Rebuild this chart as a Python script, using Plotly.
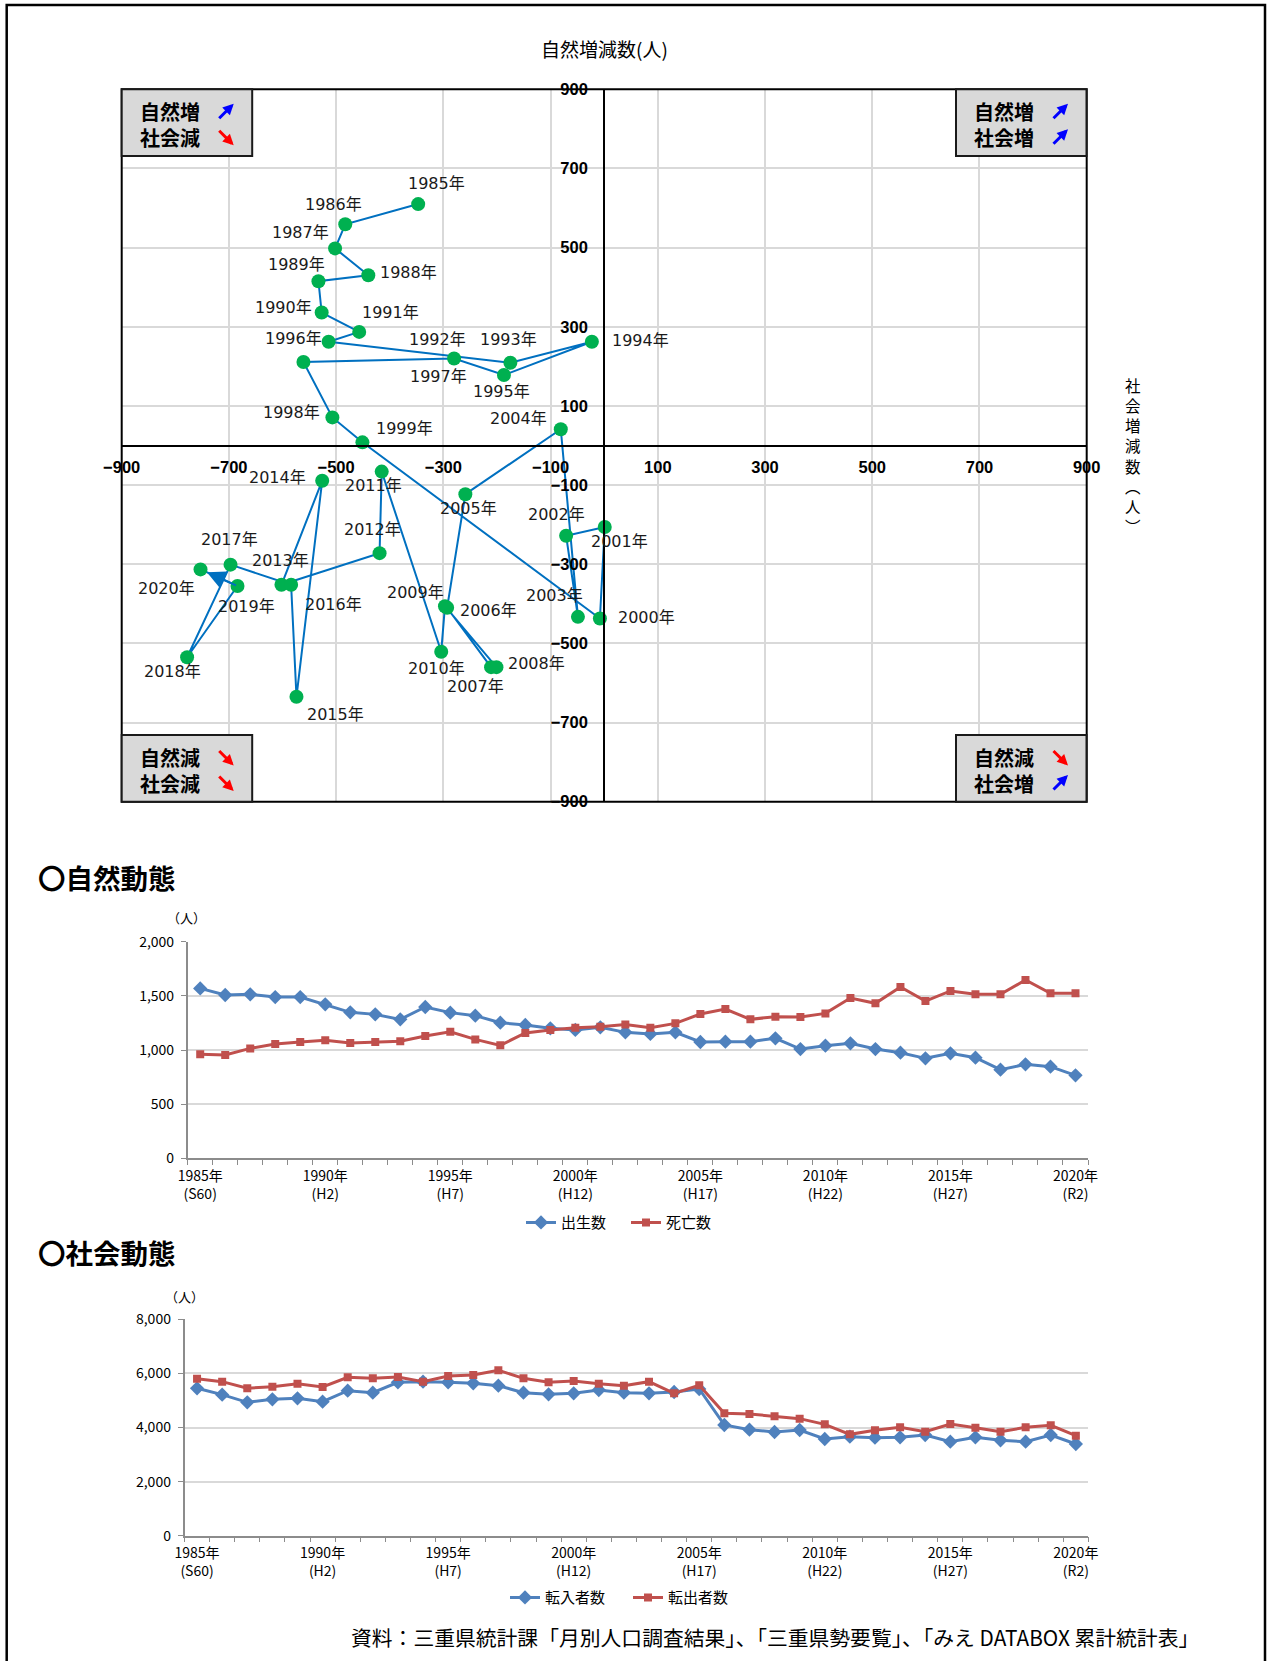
import plotly.graph_objects as go

W, H = 1271, 1661
JP = "Noto Sans CJK JP"

# ---------------------------------------------------------------- data
years = list(range(1985, 2021))

# scatter: x = 社会増減数, y = 自然増減数
social_change = [-347, -483, -502, -440, -533, -527, -457, -514, -175, -23,
                 -187, -280, -561, -507, -451, -8, 1, -71, -49, -81,
                 -259, -293, -211, -201, -297, -304, -415, -419, -602, -526,
                 -574, -584, -697, -778, -684, -753]
natural_change = [610, 559, 498, 430, 415, 336, 287, 262, 209, 262,
                  178, 220, 211, 71, 8, -437, -206, -228, -433, 41,
                  -123, -410, -560, -560, -406, -521, -66, -272, -352, -89,
                  -635, -352, -301, -535, -355, -313]

births = [1569, 1508, 1514, 1489, 1489, 1422, 1348, 1329, 1283, 1397,
          1345, 1317, 1252, 1231, 1200, 1185, 1209, 1163, 1148, 1163,
          1074, 1077, 1077, 1108, 1009, 1040, 1062, 1009, 975, 923,
          969, 929, 818, 868, 846, 766]
deaths = [960, 954, 1015, 1055, 1074, 1089, 1065, 1074, 1080, 1129,
          1169, 1098, 1043, 1157, 1185, 1206, 1215, 1236, 1206, 1246,
          1332, 1378, 1283, 1308, 1305, 1338, 1480, 1431, 1582, 1452,
          1545, 1514, 1514, 1646, 1523, 1523]

moved_in = [5449, 5214, 4931, 5042, 5079, 4956, 5362, 5288, 5670, 5695,
            5670, 5633, 5547, 5288, 5227, 5264, 5387, 5288, 5264, 5313,
            5424, 4093, 3920, 3834, 3908, 3575, 3661, 3624, 3636, 3723,
            3476, 3636, 3526, 3476, 3723, 3390]
moved_out = [5806, 5695, 5449, 5510, 5621, 5498, 5855, 5818, 5868, 5695,
             5905, 5942, 6114, 5818, 5670, 5720, 5621, 5547, 5695, 5264,
             5559, 4524, 4499, 4413, 4327, 4117, 3747, 3895, 4006, 3846,
             4130, 3994, 3846, 4006, 4080, 3698]

scatter_ticks = [-900, -700, -500, -300, -100, 100, 300, 500, 700, 900]
era_years = [1985, 1990, 1995, 2000, 2005, 2010, 2015, 2020]
era_names = ["S60", "H2", "H7", "H12", "H17", "H22", "H27", "R2"]
era_ticktext = [f"{y}年<br>({e})" for y, e in zip(era_years, era_names)]

# pixel offsets (dx right, dy down) of each year label from its point
label_offsets = [(18, -21), (-12, -20), (-35, -16), (40, -3), (-22, -17),
                 (-38, -5), (31, -19), (109, -2), (-2, -23), (49, -1),
                 (-2, 16), (-161, -20), (135, 15), (-41, -5), (42, -14),
                 (47, -1), (15, 14), (-10, -21), (-23, -21), (-42, -11),
                 (3, 14), (41, 3), (-16, 19), (40, -4), (-29, -14),
                 (-5, 17), (-8, 14), (-7, -24), (-1, -24), (-45, -3),
                 (39, 18), (42, 20), (-1, -25), (-15, 14), (9, 20),
                 (-34, 19)]


def px(xp):
    return xp / W


def py(yp):
    return 1 - yp / H


BLUE = "#4F81BD"
RED = "#C0504D"

fig = go.Figure()

# ---------------------------------------------------------------- scatter
fig.add_trace(go.Scatter(
    x=social_change, y=natural_change, mode="lines+markers",
    line=dict(color="#0070C0", width=2),
    marker=dict(color="#00B050", size=14),
    xaxis="x", yaxis="y", showlegend=False, hoverinfo="skip"))

# ---------------------------------------------------------------- natural
fig.add_trace(go.Scatter(
    x=years, y=births, name="出生数", mode="lines+markers",
    line=dict(color=BLUE, width=3),
    marker=dict(symbol="diamond", size=11, color=BLUE),
    xaxis="x2", yaxis="y2", legend="legend"))
fig.add_trace(go.Scatter(
    x=years, y=deaths, name="死亡数", mode="lines+markers",
    line=dict(color=RED, width=3),
    marker=dict(symbol="square", size=8, color=RED),
    xaxis="x2", yaxis="y2", legend="legend"))

# ---------------------------------------------------------------- social
fig.add_trace(go.Scatter(
    x=years, y=moved_in, name="転入者数", mode="lines+markers",
    line=dict(color=BLUE, width=3),
    marker=dict(symbol="diamond", size=11, color=BLUE),
    xaxis="x3", yaxis="y3", legend="legend2"))
fig.add_trace(go.Scatter(
    x=years, y=moved_out, name="転出者数", mode="lines+markers",
    line=dict(color=RED, width=3),
    marker=dict(symbol="square", size=8, color=RED),
    xaxis="x3", yaxis="y3", legend="legend2"))

# geometry of the three plot areas (page pixels)
SC_L, SC_R, SC_T, SC_B = 121.7, 1086.7, 89.3, 801.7
SC_X0 = (SC_L + SC_R) / 2
SC_Y0 = (SC_T + SC_B) / 2
N_L, N_R, N_T, N_B = 187.7, 1088.0, 941.7, 1158.3
S_L, S_R, S_T, S_B = 184.5, 1088.4, 1319.3, 1535.7

scatter_tickfont = dict(family="Liberation Sans, Arial", size=16.5,
                        color="black", weight="bold")
line_tickfont = dict(family=JP, size=14, color="black")
half_steps = [y - 0.5 for y in years] + [years[-1] + 0.5]

fig.update_layout(
    width=W, height=H,
    margin=dict(l=0, r=0, t=0, b=0, pad=0, autoexpand=False),
    paper_bgcolor="white", plot_bgcolor="white",
    font=dict(family=JP, color="black"),
    xaxis=dict(domain=[px(SC_L), px(SC_R)], range=[-900, 900],
               anchor="free", position=py(SC_Y0),
               tickvals=scatter_ticks, ticks="", showgrid=True,
               gridcolor="#d9d9d9", gridwidth=1.5, zeroline=False,
               showline=True, linecolor="black", linewidth=2,
               tickfont=scatter_tickfont, ticklabelstandoff=7,
               automargin=False),
    yaxis=dict(domain=[py(SC_B), py(SC_T)], range=[-900, 900],
               anchor="free", position=px(SC_X0),
               tickvals=scatter_ticks, ticks="", showgrid=True,
               gridcolor="#d9d9d9", gridwidth=1.5, zeroline=False,
               showline=True, linecolor="black", linewidth=2,
               tickfont=scatter_tickfont, ticklabelstandoff=12,
               automargin=False),
    xaxis2=dict(domain=[px(N_L), px(N_R)], range=[1984.5, 2020.5],
                anchor="y2", tickvals=era_years, ticktext=era_ticktext,
                ticks="", showgrid=False, zeroline=False, showline=True,
                linecolor="#8c8c8c", linewidth=1.5, tickfont=line_tickfont,
                ticklabelstandoff=4, automargin=False,
                minor=dict(tickmode="array", tickvals=half_steps,
                           ticks="outside", ticklen=5, tickcolor="#8c8c8c",
                           showgrid=False)),
    yaxis2=dict(domain=[py(N_B), py(N_T)], range=[0, 2000], anchor="x2",
                tickvals=[0, 500, 1000, 1500, 2000], tickformat=",",
                ticks="outside", ticklen=5, tickcolor="#8c8c8c",
                showgrid=True, gridcolor="#d9d9d9", gridwidth=2,
                zeroline=False, showline=True, linecolor="#8c8c8c",
                linewidth=1.5, tickfont=line_tickfont, ticklabelstandoff=4,
                automargin=False),
    xaxis3=dict(domain=[px(S_L), px(S_R)], range=[1984.5, 2020.5],
                anchor="y3", tickvals=era_years, ticktext=era_ticktext,
                ticks="", showgrid=False, zeroline=False, showline=True,
                linecolor="#8c8c8c", linewidth=1.5, tickfont=line_tickfont,
                ticklabelstandoff=4, automargin=False,
                minor=dict(tickmode="array", tickvals=half_steps,
                           ticks="outside", ticklen=5, tickcolor="#8c8c8c",
                           showgrid=False)),
    yaxis3=dict(domain=[py(S_B), py(S_T)], range=[0, 8000], anchor="x3",
                tickvals=[0, 2000, 4000, 6000, 8000], tickformat=",",
                ticks="outside", ticklen=5, tickcolor="#8c8c8c",
                showgrid=True, gridcolor="#d9d9d9", gridwidth=2,
                zeroline=False, showline=True, linecolor="#8c8c8c",
                linewidth=1.5, tickfont=line_tickfont, ticklabelstandoff=4,
                automargin=False),
    legend=dict(orientation="h", x=px(521), y=py(1222.7), xanchor="left",
                yanchor="middle", font=dict(family=JP, size=15),
                entrywidth=60, bgcolor="rgba(0,0,0,0)"),
    legend2=dict(orientation="h", x=px(505), y=py(1597.7), xanchor="left",
                 yanchor="middle", font=dict(family=JP, size=15),
                 entrywidth=78, bgcolor="rgba(0,0,0,0)"),
)

shapes = []
# outer page frame
shapes.append(dict(type="rect", xref="paper", yref="paper",
                   x0=px(6.7), x1=px(1265), y0=-0.05, y1=py(5),
                   line=dict(color="black", width=2.5)))
# scatter frame
shapes.append(dict(type="rect", xref="paper", yref="paper",
                   x0=px(SC_L), x1=px(SC_R), y0=py(SC_B), y1=py(SC_T),
                   line=dict(color="black", width=2)))

annotations = []

# quadrant boxes: (left, top, line1, colour1, up1, line2, colour2, up2)
quadrants = [
    (SC_L, SC_T, "自然増", "#0000FF", True, "社会減", "#FF0000", False),
    (956.0, SC_T, "自然増", "#0000FF", True, "社会増", "#0000FF", True),
    (SC_L, 735.0, "自然減", "#FF0000", False, "社会減", "#FF0000", False),
    (956.0, 735.0, "自然減", "#FF0000", False, "社会増", "#0000FF", True),
]
BOX_W, BOX_H = 130.5, 66.7
for left, top, t1, c1, up1, t2, c2, up2 in quadrants:
    shapes.append(dict(type="rect", xref="paper", yref="paper",
                       x0=px(left), x1=px(left + BOX_W),
                       y0=py(top + BOX_H), y1=py(top),
                       fillcolor="#d9d9d9",
                       line=dict(color="#1a1a1a", width=2)))
    for text, col, up, dy in ((t1, c1, up1, 22.5), (t2, c2, up2, 48.0)):
        annotations.append(dict(
            xref="paper", yref="paper", x=px(left + 16), y=py(top + dy),
            xanchor="left", yanchor="middle", showarrow=False,
            text=f"<b>{text}</b>",
            font=dict(family=JP, size=20, color="black")))
        # small diagonal arrow: head up-right or down-right
        cx, cy = left + 104, top + dy
        head_y = cy - 8 if up else cy + 8
        annotations.append(dict(
            xref="paper", yref="paper", x=px(cx + 8), y=py(head_y),
            ax=-16, ay=16 if up else -16, text="", showarrow=True,
            arrowhead=2, arrowsize=0.72, arrowwidth=3.0, arrowcolor=col,
            standoff=0, startstandoff=0))

# year labels beside each point
for yr, xv, yv, (dx, dy) in zip(years, social_change, natural_change,
                                label_offsets):
    annotations.append(dict(
        xref="x", yref="y", x=xv, y=yv, xshift=dx, yshift=-dy,
        text=f"{yr}年", showarrow=False, xanchor="center",
        yanchor="middle",
        font=dict(family="DejaVu Sans, " + JP, size=16, color="#1a1a1a")))

# arrow head on the latest segment
annotations.append(dict(
    xref="x", yref="y", axref="x", ayref="y",
    x=social_change[-1], y=natural_change[-1],
    ax=social_change[-2], ay=natural_change[-2],
    text="", showarrow=True, arrowhead=2, arrowsize=1.8,
    arrowwidth=2, arrowcolor="#0070C0", standoff=7))

# axis titles of the scatter
annotations.append(dict(
    xref="paper", yref="paper", x=px(SC_X0), y=py(48.7),
    text="自然増減数(人)", showarrow=False, xanchor="center",
    yanchor="middle", font=dict(family=JP, size=19, color="black")))
annotations.append(dict(
    xref="paper", yref="paper", x=px(1133.3), y=py(455),
    text="<br>".join(["社", "会", "増", "減", "数", "︵", "人", "︶"]),
    showarrow=False, xanchor="center", yanchor="middle",
    font=dict(family=JP, size=15.5, color="black")))

# section headings and unit labels
annotations.append(dict(
    xref="paper", yref="paper", x=px(36), y=py(876.7), text="<b>〇自然動態</b>",
    showarrow=False, xanchor="left", yanchor="middle",
    font=dict(family=JP, size=27.5, color="black")))
annotations.append(dict(
    xref="paper", yref="paper", x=px(36), y=py(1251.7), text="<b>〇社会動態</b>",
    showarrow=False, xanchor="left", yanchor="middle",
    font=dict(family=JP, size=27.5, color="black")))
annotations.append(dict(
    xref="paper", yref="paper", x=px(186.6), y=py(917.7), text="（人）",
    showarrow=False, xanchor="center", yanchor="middle",
    font=dict(family=JP, size=13, color="black")))
annotations.append(dict(
    xref="paper", yref="paper", x=px(184.7), y=py(1296.7), text="（人）",
    showarrow=False, xanchor="center", yanchor="middle",
    font=dict(family=JP, size=13, color="black")))

# source note
annotations.append(dict(
    xref="paper", yref="paper", x=px(349), y=py(1637.3),
    text="資料：三重県統計課「月別人口調査結果」、「三重県勢要覧」、「みえ DATABOX 累計統計表」",
    showarrow=False, xanchor="left", yanchor="middle",
    font=dict(family=JP, size=20.8, color="black")))

fig.update_layout(shapes=shapes, annotations=annotations)

fig.write_html("out.html")
